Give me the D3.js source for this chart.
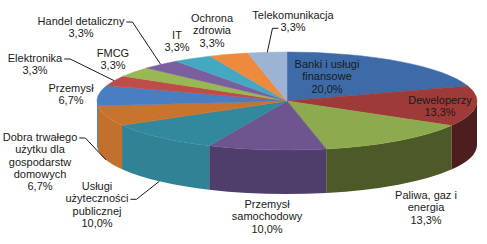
<!DOCTYPE html>
<html>
<head>
<meta charset="utf-8">
<script src="https://cdn.jsdelivr.net/npm/d3@7"></script>
<style>
  body { margin: 0; background: #fff; }
  svg { display: block; }
  text { font-family: "Liberation Sans", Arial, sans-serif; font-size: 11px; fill: #1a1a1a; }
</style>
</head>
<body>
<div id="chart"></div>
<script>
// data, clockwise from 12 o'clock
const categories = ["Banki i usługi finansowe", "Deweloperzy", "Paliwa, gaz i energia",
    "Przemysł samochodowy", "Usługi użyteczności publicznej",
    "Dobra trwałego użytku dla gospodarstw domowych", "Przemysł", "Elektronika",
    "FMCG", "Handel detaliczny", "IT", "Ochrona zdrowia", "Telekomunikacja"];
const values = [20.0, 13.3, 13.3, 10.0, 10.0, 6.7, 6.7, 3.3, 3.3, 3.3, 3.3, 3.3, 3.3];
const labelLines = [["Banki i usługi", "finansowe"], ["Deweloperzy"], ["Paliwa, gaz i", "energia"],
    ["Przemysł", "samochodowy"], ["Usługi", "użyteczności", "publicznej"],
    ["Dobra trwałego", "użytku dla", "gospodarstw", "domowych"], ["Przemysł"], ["Elektronika"],
    ["FMCG"], ["Handel detaliczny"], ["IT"], ["Ochrona", "zdrowia"], ["Telekomunikacja"]];

// colours (top face / side wall)
const topColors = ["#3d6ba7", "#9e3a38", "#8daa4e", "#6e5590", "#32889c", "#c8742f", "#4a7ec2",
    "#bf4c49", "#98b755", "#7a5e9e", "#45a8c2", "#ee8a3e", "#9db3d4"];
const sideColors = ["#2f5685", "#4c1f1e", "#4b5a27", "#4f3e6b", "#2f8394", "#c2702d", "#4578b8",
    "#a84240", "#86a34a", "#6a528a", "#3d96ad", "#d97a34", "#8aa0bf"];

// label layout: centre x, first line centre y; leader: [line index, side]
const labelPos = [[327, 64], [440, 100], [426, 195], [267, 204], [97, 186], [40, 137], [71, 88],
    [35, 58], [113, 53], [81, 21], [177, 35], [212, 18], [293, 15]];
const leaders = {7: [0, "right"], 9: [0, "right"], 5: [0, "right"], 4: [1, "right"], 12: [1, "left"]};

const width = 487, height = 244;
const cx = 287, cy = 101, rx = 190, ry = 49, depth = 44;
const lineH = 12.3;

const svg = d3.select("#chart").append("svg")
    .attr("width", width).attr("height", height);

const pie = d3.pie().sort(null).value(d => d)
    .startAngle(0).endAngle(2 * Math.PI);
const arcs = pie(values);

const topColor = d3.scaleOrdinal().domain(d3.range(values.length)).range(topColors);
const sideColor = d3.scaleOrdinal().domain(d3.range(values.length)).range(sideColors);

const fmt = d3.formatLocale({decimal: ",", thousands: " ", grouping: [3], currency: ["", ""]}).format(".1f");
const total = d3.sum(values);

// point on the rim of the top face, angle clockwise from top
function pt(a, dy) {
    return [cx + rx * Math.sin(a), cy - ry * Math.cos(a) + (dy || 0)];
}

function topPath(d) {
    const p0 = pt(d.startAngle), p1 = pt(d.endAngle);
    const large = d.endAngle - d.startAngle > Math.PI ? 1 : 0;
    return `M${cx},${cy}L${p0}A${rx},${ry} 0 ${large} 1 ${p1}Z`;
}

function sidePath(d) {
    const b0 = Math.max(d.startAngle, Math.PI / 2);
    const b1 = Math.min(d.endAngle, 3 * Math.PI / 2);
    if (b1 <= b0) return null;
    const t0 = pt(b0), t1 = pt(b1), u0 = pt(b0, depth), u1 = pt(b1, depth);
    return `M${t0}A${rx},${ry} 0 0 1 ${t1}L${u1}A${rx},${ry} 0 0 0 ${u0}Z`;
}

// side walls
svg.append("g").selectAll("path")
    .data(arcs.filter(d => sidePath(d)))
    .enter().append("path")
        .attr("d", sidePath)
        .attr("fill", d => sideColor(d.index));

// top faces
svg.append("g").selectAll("path")
    .data(arcs)
    .enter().append("path")
        .attr("d", topPath)
        .attr("fill", d => topColor(d.index))
        .attr("stroke", d => topColor(d.index))
        .attr("stroke-width", 0.5);

// labels
const labels = svg.append("g").selectAll("text")
    .data(arcs)
    .enter().append("text")
        .attr("text-anchor", "middle");

labels.each(function(d) {
    const t = d3.select(this);
    const lines = labelLines[d.index].concat([fmt(d.value / total * 100) + "%"]);
    const p = labelPos[d.index];
    lines.forEach((s, i) => {
        t.append("tspan")
            .attr("x", p[0])
            .attr("y", p[1] + i * lineH + 4)
            .text(s);
    });
});

// leader lines
const leaderG = svg.append("g");
labels.each(function(d) {
    const l = leaders[d.index];
    if (!l) return;
    const tspan = d3.select(this).selectAll("tspan").nodes()[l[0]];
    const w = tspan.getComputedTextLength();
    const p = labelPos[d.index];
    const y = p[1] + l[0] * lineH + 1;
    const dir = l[1] === "right" ? 1 : -1;
    const x0 = p[0] + dir * (w / 2 + 2);
    const x1 = x0 + dir * 6;
    const mid = (d.startAngle + d.endAngle) / 2;
    const front = Math.cos(mid) < 0;
    const end = pt(mid, front ? depth : 0);
    leaderG.append("path")
        .attr("d", `M${x0},${y}L${x1},${y}L${end}`)
        .attr("fill", "none")
        .attr("stroke", "#1a1a1a")
        .attr("stroke-width", 1);
});
</script>
</body>
</html>
